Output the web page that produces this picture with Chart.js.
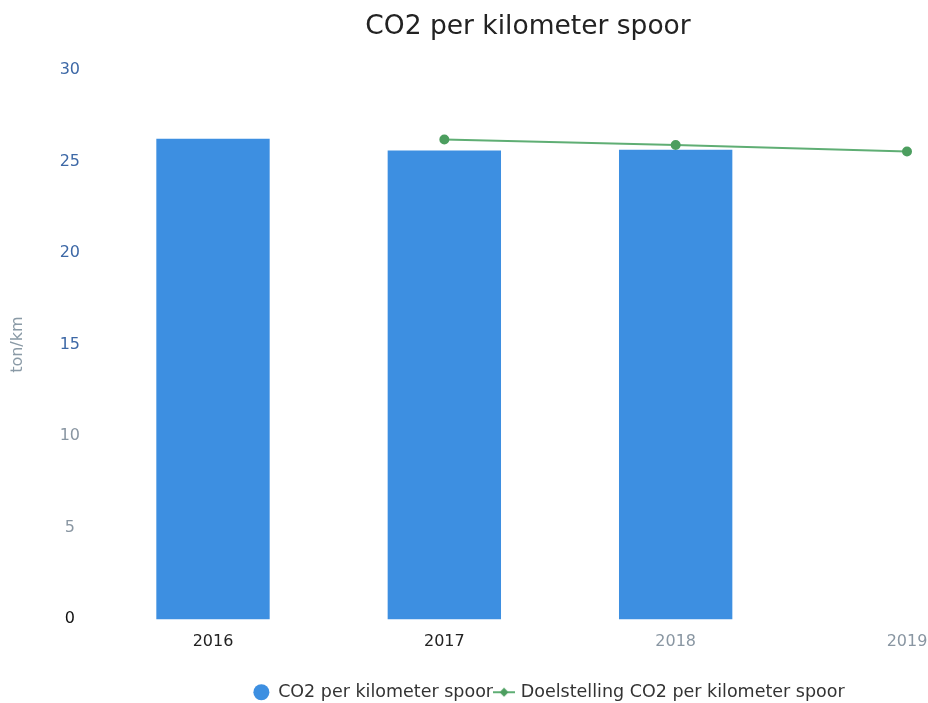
<!DOCTYPE html>
<html>
<head>
<meta charset="utf-8">
<script src="https://cdn.jsdelivr.net/npm/chart.js@4/dist/chart.umd.min.js"></script>
<style>
  html, body { margin: 0; padding: 0; background: #fff; }
  #wrap { width: 928px; height: 703px; position: relative; }
</style>
</head>
<body>
<div id="wrap"><canvas id="c"></canvas></div>
<script>
// Jaren op de x-as
const years = ['2016', '2017', '2018', '2019'];
// Gerealiseerde CO2-uitstoot per kilometer spoor (ton/km)
const co2PerKm = [26.25, 25.6, 25.65, null];
// Doelstelling CO2 per kilometer spoor (ton/km)
const targetPerKm = [null, 26.2, 25.9, 25.55];
// Y-as schaal
const yMin = 0, yMax = 30, yStep = 5;

const chartTitle = 'CO2 per kilometer spoor';
const barColor = '#3d8fe1';
const lineColor = '#5fae74';
const pointColor = '#4c9e5f';
const FONT = '"DejaVu Sans", "Noto Sans", sans-serif';

// Legend marker for the target series: short line with a diamond
const marker = document.createElement('canvas');
marker.width = 22; marker.height = 10;
(function () {
  const g = marker.getContext('2d');
  g.strokeStyle = lineColor; g.lineWidth = 2;
  g.beginPath(); g.moveTo(0, 5); g.lineTo(22, 5); g.stroke();
  g.fillStyle = pointColor;
  g.beginPath(); g.moveTo(11, 0.5); g.lineTo(15.5, 5); g.lineTo(11, 9.5); g.lineTo(6.5, 5); g.closePath(); g.fill();
})();

const titlePlugin = {
  id: 'plainTitle',
  afterLayout(chart) {
    // nudge the legend row a little to the left
    if (chart.legend) { chart.legend.left -= 11; chart.legend.right -= 11; }
  },
  afterDraw(chart) {
    const ctx = chart.ctx;
    ctx.save();
    ctx.font = '26.5px ' + FONT;
    ctx.fillStyle = '#222';
    ctx.textAlign = 'center';
    ctx.textBaseline = 'middle';
    ctx.fillText(chartTitle, 528, 27);
    ctx.restore();
  }
};

const yTickColor = v => (v >= 15 ? '#3d68a6' : (v > 0 ? '#8996a2' : '#111'));
const xTickColors = ['#222', '#222', '#8996a2', '#8996a2'];

new Chart(document.getElementById('c'), {
  data: {
    labels: years,
    datasets: [
      {
        type: 'bar',
        label: 'CO2 per kilometer spoor',
        data: co2PerKm,
        backgroundColor: barColor,
        borderWidth: 0,
        barPercentage: 0.49,
        categoryPercentage: 1,
        clip: false,
        order: 1
      },
      {
        type: 'line',
        label: 'Doelstelling CO2 per kilometer spoor',
        data: targetPerKm,
        borderColor: lineColor,
        borderWidth: 2,
        pointBackgroundColor: pointColor,
        pointBorderColor: pointColor,
        pointRadius: 4,
        tension: 0,
        clip: false,
        order: 0
      }
    ]
  },
  plugins: [titlePlugin],
  options: {
    responsive: true,
    maintainAspectRatio: false,
    animation: false,
    layout: { padding: { top: 70, right: 21, bottom: -8, left: 0 } },
    scales: {
      x: {
        type: 'category',
        offset: false,
        grid: { display: false, drawTicks: false },
        border: { display: false },
        ticks: {
          padding: 13,
          color: ctx => xTickColors[ctx.index],
          font: { family: FONT, size: 16 },
          maxRotation: 0
        },
        afterFit: s => { s.paddingLeft = 0; s.paddingRight = 0; s.height += 16; }
      },
      y: {
        min: yMin,
        max: yMax,
        grid: { display: false, drawTicks: false },
        border: { display: false },
        ticks: {
          stepSize: yStep,
          crossAlign: 'center',
          padding: 133,
          color: ctx => yTickColor(ctx.tick.value),
          font: { family: FONT, size: 16 }
        },
        title: {
          display: true,
          text: 'ton/km',
          color: '#8a9aa6',
          font: { family: FONT, size: 16 },
          padding: { top: 8, bottom: 0 }
        },
        afterFit: s => { s.width = 213; s.paddingTop = 0; s.paddingBottom = 0; }
      }
    },
    plugins: {
      title: { display: false },
      tooltip: { enabled: false },
      legend: {
        position: 'bottom',
        fullSize: false,
        labels: {
          usePointStyle: true,
          pointStyleWidth: 16,
          boxHeight: 11.3,
          padding: 3,
          color: '#333',
          font: { family: FONT, size: 17.5 },
          sort: (a, b) => a.datasetIndex - b.datasetIndex,
          generateLabels(chart) {
            const items = Chart.defaults.plugins.legend.labels.generateLabels(chart);
            items.forEach(it => {
              if (it.datasetIndex === 0) { it.pointStyle = 'circle'; it.fillStyle = barColor; it.strokeStyle = barColor; }
              else { it.pointStyle = marker; }
            });
            return items;
          }
        }
      }
    }
  }
});
</script>
</body>
</html>
